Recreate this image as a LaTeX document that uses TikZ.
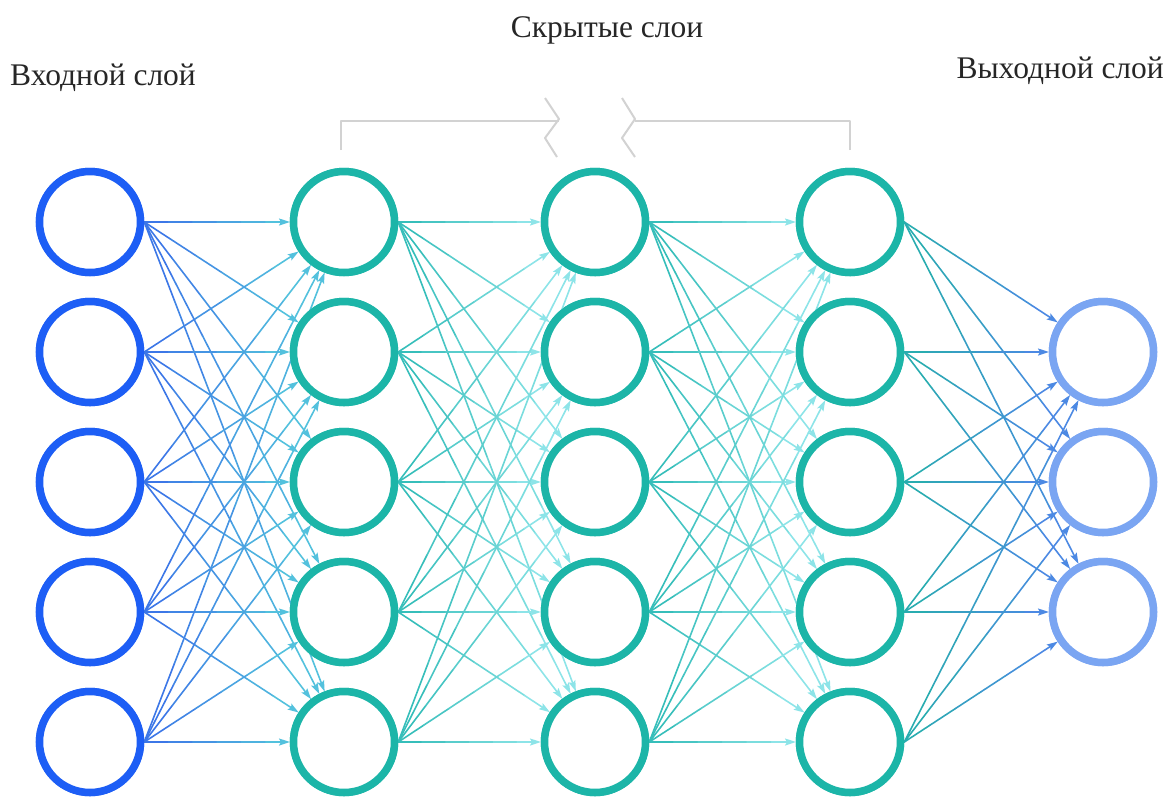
\documentclass[tikz,border=0pt]{standalone}
\usepackage{fontspec}
\setmainfont{Liberation Serif}
\usetikzlibrary{calc,arrows.meta}
\definecolor{inC}{HTML}{1D5EF5}
\definecolor{hidC}{HTML}{1CB5A8}
\definecolor{outC}{HTML}{7AA5F2}
\definecolor{eBlue}{HTML}{3A6FE8}
\definecolor{eCyan}{HTML}{55C8DC}
\definecolor{eTeal}{HTML}{2DBAB5}
\definecolor{eLight}{HTML}{95E8EC}
\definecolor{eTeal2}{HTML}{25B0AA}
\definecolor{eBlue2}{HTML}{4F86E8}
\definecolor{brC}{HTML}{D2D2D2}
\tikzset{
  neuron/.style={circle, minimum size=101pt, inner sep=0pt, line width=7.5pt, fill=white},
  inN/.style={neuron, draw=inC},
  hidN/.style={neuron, draw=hidC},
  outN/.style={neuron, draw=outC},
  edgeseg/.style={line width=1.6pt, line cap=round},
  tipped/.style={-{Stealth[length=11pt,width=7pt,inset=2pt]}},
  lbl/.style={font=\fontsize{31.5}{38}\selectfont, text=black!85, inner sep=0pt},
  bracketline/.style={draw=brC, line width=2pt, line join=round}
}
\newcommand\gedge[4]{%
  \coordinate (gs) at (#1.east);
  \coordinate (ge) at ($(#2.center)!54pt!(gs)$);
  \foreach \k in {0,...,4}{%
    \pgfmathtruncatemacro\pp{100-100*(\k+0.5)/6}%
    \pgfmathsetmacro\fa{\k/6}%
    \pgfmathsetmacro\fb{(\k+1)/6}%
    \draw[edgeseg, color=#3!\pp!#4] ($(gs)!\fa!(ge)$) -- ($(gs)!\fb!(ge)$);
  }%
  \draw[edgeseg, tipped, color=#3!8!#4] ($(gs)!0.8333!(ge)$) -- (ge);
}
\begin{document}
\begin{tikzpicture}[x=1pt,y=-1pt]
\useasboundingbox (0,0) rectangle (1167,796);
\foreach \j/\yy in {1/222,2/352,3/482,4/612,5/742}{
  \path node[inN] (i\j) at (90,\yy) {};
  \path node[hidN] (a\j) at (344,\yy) {};
  \path node[hidN] (b\j) at (595,\yy) {};
  \path node[hidN] (c\j) at (850,\yy) {};
}
\foreach \j/\yy in {1/352,2/482,3/612}{
  \path node[outN] (o\j) at (1103,\yy) {};
}
% edges
\foreach \s in {1,...,5}{
  \foreach \t in {1,...,5}{
    \gedge{i\s}{a\t}{eBlue}{eCyan}
    \gedge{a\s}{b\t}{eTeal}{eLight}
    \gedge{b\s}{c\t}{eTeal}{eLight}
  }
  \foreach \t in {1,2,3}{
    \gedge{c\s}{o\t}{eTeal2}{eBlue2}
  }
}
% redraw nodes on top
\foreach \j/\yy in {1/222,2/352,3/482,4/612,5/742}{
  \node[inN] at (90,\yy) {};
  \node[hidN] at (344,\yy) {};
  \node[hidN] at (595,\yy) {};
  \node[hidN] at (850,\yy) {};
}
\foreach \j/\yy in {1/352,2/482,3/612}{
  \node[outN] at (1103,\yy) {};
}
% bracket
\coordinate (bl) at (341,150);
\coordinate (br) at (850,150);
\draw[bracketline] (bl) -- (341,121) -- (559,121);
\draw[bracketline] (545,98) -- (559,119) -- (545,138) -- (557,157);
\draw[bracketline] (br) -- (850,121) -- (635,121);
\draw[bracketline] (622,98) -- (635,119) -- (622,138) -- (635,157);
% labels
\node[lbl, anchor=base west] (lin) at (10,85) {Входной слой};
\node[lbl, anchor=base] (lhid) at (607,37) {Скрытые слои};
\node[lbl, anchor=base east] (lout) at (1164,78) {Выходной слой};
\end{tikzpicture}
\end{document}
